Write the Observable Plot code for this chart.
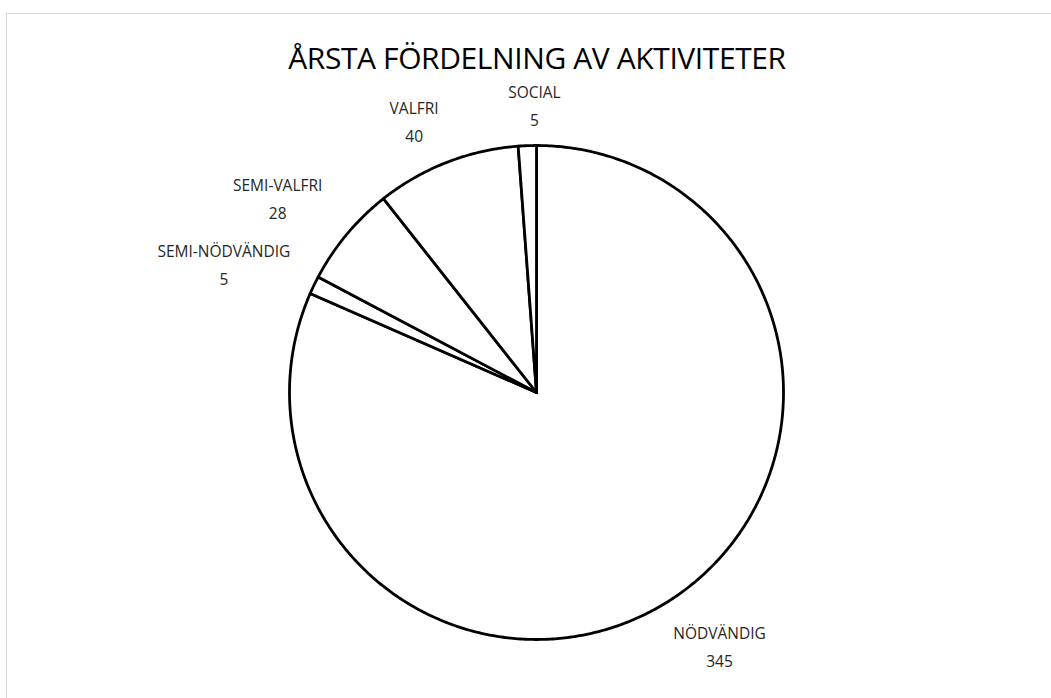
<!DOCTYPE html>
<html>
<head>
<meta charset="utf-8">
<script src="https://cdn.jsdelivr.net/npm/d3@7"></script>
<script src="https://cdn.jsdelivr.net/npm/@observablehq/plot@0.6"></script>
<style>
  html, body { margin: 0; padding: 0; background: #fff; width: 1051px; height: 698px; overflow: hidden; }
  #frame { position: absolute; left: 6px; top: 13px; width: 1100px; height: 760px; border: 1.5px solid #d9d9d9; box-sizing: border-box; }
  #title { position: absolute; left: 0; width: 1074px; top: 38px; line-height: 40px; text-align: center; font-family: "Open Sans", sans-serif; font-size: 30px; color: #000; letter-spacing: -0.4px; }
  #chart { position: absolute; left: 0; top: 0; }
</style>
</head>
<body>
<div id="frame"></div>
<div id="title">ÅRSTA FÖRDELNING AV AKTIVITETER</div>
<div id="chart"></div>
<script>
const categories = ["NÖDVÄNDIG", "SEMI-NÖDVÄNDIG", "SEMI-VALFRI", "VALFRI", "SOCIAL"];
const values = [345, 5, 28, 40, 5];

const data = categories.map((name, i) => ({name, value: values[i]}));
const arcs = d3.pie().sort(null).value(d => d.value)(data);

// slice outlines in unit-circle data space (angle clockwise from 12 o'clock)
const pts = [];
for (const a of arcs) {
  pts.push({name: a.data.name, x: 0, y: 0});
  const n = Math.max(4, Math.ceil((a.endAngle - a.startAngle) / 0.01));
  for (let k = 0; k <= n; k++) {
    const t = a.startAngle + (a.endAngle - a.startAngle) * k / n;
    pts.push({name: a.data.name, x: Math.sin(t), y: Math.cos(t)});
  }
  pts.push({name: a.data.name, x: 0, y: 0});
}

// label positions: outside end, offset by text box size along the mid-angle
const R = 247; // px radius used for scale ranges
const labels = arcs.map((a, i) => {
  const mid = (a.startAngle + a.endAngle) / 2;
  const m = mid - (Math.abs(Math.sin(mid)) > 0.3 ? 0.05 : -0.03);
  const s = Math.sin(m), c = Math.cos(m);
  const halfW = a.data.name.length * 4.9;
  const halfH = 21;
  const off = 21 + Math.abs(s) * halfW + Math.abs(c) * halfH;
  const d = 1 + off / R;
  return {text: a.data.name + "\n" + a.data.value, x: s * d, y: c * d};
});
// simple collision relief between stacked neighbouring labels
for (let i = 1; i < labels.length; i++) {
  const p = labels[i - 1], q = labels[i];
  const gap = Math.abs(p.y - q.y) * R;
  if (gap < 66 && Math.abs(p.x - q.x) * R < 70) {
    q.y += (66 - gap) / R / 2;
    p.y -= (66 - gap) / R / 2;
  }
}

const cx = 536, cy = 392;
const chart = Plot.plot({
  width: 1051,
  height: 698,
  margin: 0,
  x: {domain: [-1, 1], range: [cx - R, cx + R], axis: null},
  y: {domain: [-1, 1], range: [cy + R, cy - R], axis: null},
  style: {background: "transparent"},
  marks: [
    Plot.line(pts, {x: "x", y: "y", z: "name", fill: "white", stroke: "black", strokeWidth: 2.8, strokeLinejoin: "round", curve: "linear"}),
    Plot.text(labels, {x: "x", y: "y", text: "text", fontSize: 15.5, lineHeight: 1.8, fill: "#262626", fontFamily: "Open Sans", textAnchor: "middle"})
  ]
});
document.getElementById("chart").appendChild(chart);
</script>
</body>
</html>
